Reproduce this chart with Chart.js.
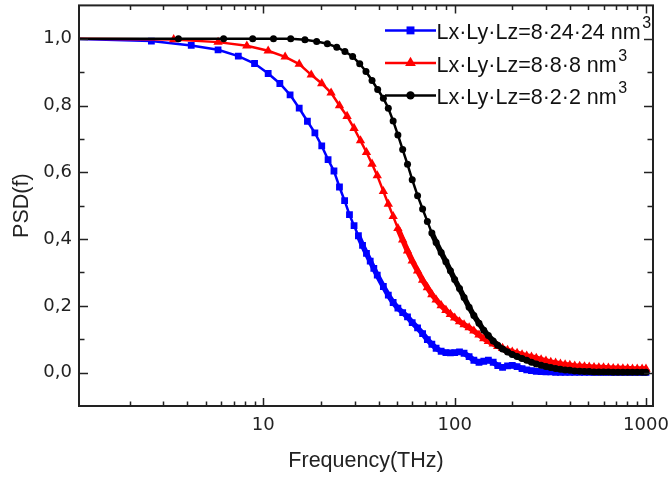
<!DOCTYPE html>
<html>
<head>
<meta charset="utf-8">
<script src="https://cdn.jsdelivr.net/npm/chart.js@4.4.1/dist/chart.umd.min.js"></script>
<style>
  html, body { margin: 0; background: #fff; }
</style>
</head>
<body>
<canvas id="psdChart" width="671" height="479"></canvas>
<script>
// Series names (superscript 3 drawn separately in the legend)
const seriesNames = ['Lx·Ly·Lz=8·24·24 nm', 'Lx·Ly·Lz=8·8·8 nm', 'Lx·Ly·Lz=8·2·2 nm'];

// Low-frequency sample points of each curve (THz)
const blueLowFreq = [1.0, 2.6, 4.2, 5.8, 7.4, 9.0, 10.6, 12.2, 13.8, 15.4, 17.0, 18.6, 20.2, 21.8, 23.4,
  25.0, 26.6, 28.2, 29.8, 31.4, 33.0, 34.6, 36.2, 37.8, 39.4];
const redLowFreq = [1.0, 3.4, 5.8, 8.2, 10.6, 13.0, 15.4, 17.8, 20.2, 22.6, 25.0, 27.4, 29.8, 32.2, 34.6, 37.0, 39.4];
const blackLowFreq = [1.02, 3.6, 6.2, 8.8, 11.3, 13.9, 16.5, 19.0, 21.6, 24.2, 26.7, 29.3, 31.9, 34.4, 37.0, 39.6];

// Shared frequencies above 40 THz
const highFreq = [42.4, 45, 47.7, 50.5, 53.5, 56.7, 60, 64, 68, 72, 76, 80, 85, 90, 95, 100, 106, 112, 119, 126,
  134, 142, 150, 159, 168, 178, 189, 200, 212, 225, 238, 252, 267, 283, 300, 318, 337, 357, 378, 400,
  424, 450, 477, 505, 535, 567, 600, 636, 674, 714, 757, 802, 850, 900, 954, 1000];

// PSD values (low part followed by highFreq part)
const bluePsd = [1.0, 0.993, 0.980, 0.967, 0.948, 0.926, 0.896, 0.866, 0.832, 0.792, 0.753, 0.718, 0.679, 0.638, 0.604,
  0.556, 0.515, 0.473, 0.440, 0.410, 0.381, 0.357, 0.334, 0.312, 0.292,
  0.258, 0.232, 0.210, 0.193, 0.180, 0.167, 0.150, 0.134, 0.117, 0.099, 0.085, 0.073, 0.064, 0.060, 0.059, 0.060,
  0.062, 0.058, 0.048, 0.037, 0.031, 0.034, 0.037, 0.031, 0.021, 0.016, 0.020, 0.022, 0.018, 0.012, 0.008, 0.006,
  0.004, 0.003, 0.002, 0.002, 0.001, 0.001, 0.001, 0.001, 0.001, 0.001, 0.001, 0.001, 0.001, 0.001, 0.001, 0.001,
  0.001, 0.001, 0.001, 0.001, 0.001, 0.001, 0.001, 0.001, 0.001];
const redPsd = [1.0, 0.998, 0.990, 0.979, 0.964, 0.946, 0.924, 0.892, 0.866, 0.838, 0.800, 0.768, 0.732, 0.695, 0.660,
  0.625, 0.590,
  0.543, 0.505, 0.468, 0.432, 0.398, 0.365, 0.335, 0.305, 0.277, 0.255, 0.234, 0.218, 0.201, 0.187, 0.175, 0.164,
  0.153, 0.144, 0.135, 0.125, 0.113, 0.102, 0.094, 0.086, 0.079, 0.073, 0.067, 0.062, 0.058, 0.054, 0.050, 0.047,
  0.043, 0.039, 0.035, 0.031, 0.029, 0.026, 0.024, 0.022, 0.020, 0.019, 0.018, 0.017, 0.016, 0.015, 0.015, 0.014,
  0.013, 0.013, 0.012, 0.012, 0.011, 0.011, 0.011, 0.011];
const blackPsd = [1.0, 1.0, 1.0, 1.0, 1.0, 1.0, 0.997, 0.992, 0.985, 0.975, 0.962, 0.947, 0.925, 0.902, 0.875, 0.848,
  0.822, 0.792, 0.754, 0.712, 0.668, 0.624, 0.578, 0.530, 0.490, 0.453, 0.418, 0.390, 0.360, 0.332, 0.305, 0.279,
  0.252, 0.225, 0.196, 0.171, 0.148, 0.127, 0.111, 0.095, 0.082, 0.071, 0.062, 0.054, 0.048, 0.042, 0.037, 0.031,
  0.026, 0.022, 0.018, 0.015, 0.012, 0.010, 0.008, 0.007, 0.005, 0.004, 0.003, 0.003, 0.002, 0.002, 0.002, 0.002,
  0.001, 0.001, 0.001, 0.001, 0.001, 0.001, 0.001, 0.001];

// Axis ticks
const xTickValues = [10, 100, 1000];
const yTickValues = [0, 0.2, 0.4, 0.6, 0.8, 1.0];
const yMinorValues = [0.1, 0.3, 0.5, 0.7, 0.9];

function toPoints(lowFreq, psd) {
  const freq = lowFreq.concat(highFreq);
  return freq.map((f, i) => ({ x: f, y: psd[i] }));
}

const xMinorValues = [];
[1, 10, 100].forEach(d => { for (let k = 2; k <= 9; k++) xMinorValues.push(k * d); });

// markers merge into a thick band where the original sampling gets dense
const seriesStyles = [
  { color: '#0000ff', pointStyle: 'rect', radius: 4.8, legendRadius: 5.6, denseFrom: 30 },
  { color: '#ff0000', pointStyle: 'triangle', radius: 5.4, legendRadius: 6.2, denseFrom: 50 },
  { color: '#000000', pointStyle: 'circle', radius: 3.5, legendRadius: 4.2, denseFrom: 75 }
];

// Frame with inward ticks on all four sides
const frameTicks = {
  id: 'frameTicks',
  afterDatasetsDraw(chart) {
    const { ctx, chartArea: a, scales: { x, y } } = chart;
    ctx.save();
    ctx.strokeStyle = '#222';
    ctx.lineWidth = 1.5;
    ctx.beginPath();
    const xTick = (v, len) => {
      const px = Math.round(x.getPixelForValue(v)) + 0.5;
      ctx.moveTo(px, a.bottom); ctx.lineTo(px, a.bottom - len);
      ctx.moveTo(px, a.top); ctx.lineTo(px, a.top + len);
    };
    const yTick = (v, len) => {
      const py = Math.round(y.getPixelForValue(v)) + 0.5;
      ctx.moveTo(a.left, py); ctx.lineTo(a.left + len, py);
      ctx.moveTo(a.right, py); ctx.lineTo(a.right - len, py);
    };
    xMinorValues.forEach(v => xTick(v, 4.5));
    xTickValues.forEach(v => xTick(v, 8));
    yMinorValues.forEach(v => yTick(v, 5.5));
    yTickValues.forEach(v => yTick(v, 9));
    ctx.stroke();
    ctx.lineWidth = 2;
    ctx.strokeRect(a.left, a.top, a.right - a.left, a.bottom - a.top);
    ctx.restore();
  }
};

// Legend with line + marker samples, placed in the upper right of the plot
const insideLegend = {
  id: 'insideLegend',
  afterDraw(chart) {
    const { ctx, chartArea: a } = chart;
    ctx.save();
    chart.data.datasets.forEach((ds, i) => {
      const st = seriesStyles[i];
      const base = a.top + 34 + i * 32.5;
      const ly = base - 9;
      const x0 = a.left + 306, x1 = a.left + 357;
      ctx.strokeStyle = st.color;
      ctx.lineWidth = 2.5;
      ctx.beginPath(); ctx.moveTo(x0, ly); ctx.lineTo(x1, ly); ctx.stroke();
      ctx.fillStyle = st.color;
      Chart.helpers.drawPoint(ctx, { pointStyle: st.pointStyle, radius: st.legendRadius, borderWidth: 0, rotation: 0 }, (x0 + x1) / 2, ly);
      ctx.fillStyle = '#111';
      ctx.textBaseline = 'alphabetic';
      ctx.textAlign = 'left';
      ctx.font = '21.5px "Liberation Sans", Arial, sans-serif';
      ctx.fillText(ds.label, x1 + 0.5, base);
      const w = ctx.measureText(ds.label).width;
      ctx.font = '16px "Liberation Sans", Arial, sans-serif';
      ctx.fillText('3', x1 + 2 + w, base - 11);
    });
    ctx.restore();
  }
};

const datasets = [
  { label: seriesNames[0], data: toPoints(blueLowFreq, bluePsd), order: 2 },
  { label: seriesNames[1], data: toPoints(redLowFreq, redPsd), order: 1 },
  { label: seriesNames[2], data: toPoints(blackLowFreq, blackPsd), order: 0 }
].map((ds, i) => Object.assign(ds, {
  borderColor: seriesStyles[i].color,
  backgroundColor: seriesStyles[i].color,
  pointBackgroundColor: seriesStyles[i].color,
  borderWidth: 2.5,
  pointStyle: seriesStyles[i].pointStyle,
  pointRadius: seriesStyles[i].radius,
  pointBorderWidth: 0,
  tension: 0,
  clip: 0,
  segment: {
    borderWidth: c => c.p0.parsed.x >= seriesStyles[i].denseFrom ? 5.5 : undefined
  }
}));

const ctx = document.getElementById('psdChart').getContext('2d');
new Chart(ctx, {
  type: 'line',
  data: { datasets },
  plugins: [frameTicks, insideLegend],
  options: {
    responsive: false,
    animation: false,
    layout: { padding: { top: 1, right: 18, bottom: 0, left: 0 } },
    plugins: { legend: { display: false }, tooltip: { enabled: false } },
    scales: {
      x: {
        type: 'logarithmic',
        bounds: 'data',
        min: 1.088,
        max: 1088,
        grid: { display: false, drawTicks: false },
        border: { display: false },
        afterBuildTicks: s => { s.ticks = xTickValues.map(v => ({ value: v })); },
        afterFit: s => { s.height = 73; s.paddingLeft = 0; s.paddingRight = 0; },
        ticks: {
          padding: 9,
          color: '#222',
          font: { family: '"DejaVu Sans"', size: 18 },
          maxRotation: 0,
          callback: v => String(v)
        },
        title: {
          display: true,
          text: 'Frequency(THz)',
          color: '#222',
          font: { family: '"Liberation Sans"', size: 21.5 },
          padding: { top: 0, bottom: 5 }
        }
      },
      y: {
        type: 'linear',
        min: -0.1,
        max: 1.1,
        grid: { display: false, drawTicks: false },
        border: { display: false },
        afterBuildTicks: s => { s.ticks = yTickValues.map(v => ({ value: v })); },
        afterFit: s => { s.width = 79; s.paddingTop = 0; s.paddingBottom = 0; },
        ticks: {
          padding: 7,
          color: '#222',
          font: { family: '"DejaVu Sans"', size: 18 },
          callback: v => v.toFixed(1).replace('.', ',')
        },
        title: {
          display: true,
          text: 'PSD(f)',
          color: '#222',
          font: { family: '"Liberation Sans"', size: 21.5 },
          padding: { top: 9, bottom: 0 }
        }
      }
    }
  }
});
</script>
</body>
</html>
